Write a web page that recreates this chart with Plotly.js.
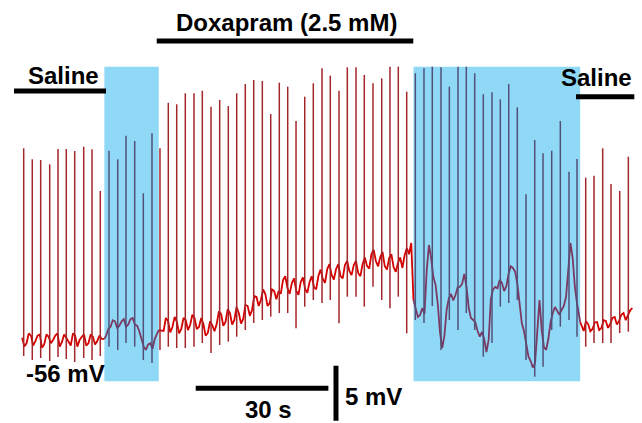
<!DOCTYPE html>
<html>
<head>
<meta charset="utf-8">
<script src="https://cdn.plot.ly/plotly-3.0.1.min.js"></script>
<style>html,body{margin:0;padding:0;background:#fff;}#chart{width:642px;height:423px;}</style>
</head>
<body>
<div id="chart"></div>
<script>
// ---- Data (time in s, membrane potential in mV) ----
// Baseline membrane potential samples [time, mV], read at ~1 s
const baseline = [
  [5,-55.8],[6,-56.3],[7,-55.6],[8,-56.1],[9,-55.5],[10,-56.4],[11,-55.7],[12,-56.0],[13,-55.4],[14,-56.2],
  [15,-55.8],[16,-56.5],[17,-55.6],[18,-56.0],[19,-55.5],[20,-56.3],[21,-55.7],[22,-56.1],[23,-55.9],[23.6,-55.9],
  [24,-55.6],[25,-54.8],[26,-54.3],[27,-54.7],[28,-54.1],[29,-54.6],[30,-54.0],[31,-54.7],[32,-56.0],[33,-56.9],
  [34,-56.3],[35,-55.9],[35.9,-55.1],
  [37,-55.18],[38,-54.27],[39,-54.82],[40,-54.36],[41,-55.00],[42,-54.18],[43,-54.64],[44,-54.00],[45,-54.82],[46,-54.55],
  [47,-55.36],[48,-54.64],[49,-54.55],[50,-53.64],[51,-54.36],[52,-53.55],[53,-54.18],[54,-53.55],[55,-54.09],[56,-52.91],
  [57,-53.27],[58,-52.09],[59,-52.36],[60,-51.82],[61,-52.64],[62,-51.55],[63,-51.55],[64,-50.55],[65,-51.27],[66,-50.82],
  [67,-51.55],[68,-50.73],[69,-51.36],[70,-50.73],[71,-51.18],[72,-50.18],[73,-50.45],[74,-49.55],[75,-50.09],[76,-49.55],
  [77,-50.18],[78,-49.18],[79,-49.73],[80,-49.18],[81,-49.91],[82,-49.09],[83,-49.27],[84,-48.18],[85,-48.82],[86,-48.45],
  [87,-49.27],[88,-48.55],[89,-49.36],[90,-49.00],[91,-49.45],[92,-47.64],[93,-47.18],[93.5,-52.36],
  [94,-53.09],[95,-53.73],[96,-53.64],[96.5,-49.64],[97,-47.36],[97.5,-48.55],[98,-50.27],[99,-52.73],[100,-56.73],[101,-53.27],
  [102,-51.82],[103,-51.91],[104,-51.18],[105,-50.00],[106,-53.09],[107,-54.18],[108,-55.18],[109,-55.27],[110,-57.09],[111,-52.27],
  [112,-51.18],[113,-50.55],[114,-51.55],[115,-50.00],[116,-49.45],[117,-50.91],[118,-54.45],[119,-56.45],[120,-57.91],[121,-58.09],
  [121.5,-55.55],[122,-52.36],[122.5,-55.09],[123,-56.64],[124,-55.91],[125,-53.55],[126,-53.36],[127,-53.27],[128,-52.09],[128.5,-49.18],
  [129,-47.18],[129.5,-48.55],[130,-51.18],[131,-53.91],[131.2,-54.36],
  [132,-55.18],[133,-54.55],[134,-55.00],[135,-54.36],[136,-54.91],[137,-54.27],[138,-54.55],[139,-53.91],[140,-54.27],[141,-53.55],
  [142,-53.73],[143,-53.09]
];
// Additional baseline samples between the above (noise detail) [time, mV]
const baselineFine = [
  [5.5,-56.6],[6.5,-55.4],[7.5,-56.5],[8.5,-55.6],[9.5,-56.7],[10.5,-55.5],[11.5,-56.3],[12.5,-55.6],[13.5,-56.6],[14.5,-55.5],
  [15.5,-56.2],[16.5,-55.4],[17.5,-56.6],[18.5,-55.7],[19.5,-56.5],[20.5,-55.5],[21.5,-56.4],[22.5,-55.6],
  [24.5,-55.0],[25.5,-54.2],[26.5,-54.9],[27.5,-54.3],[28.5,-54.8],[29.5,-54.1],[30.5,-54.6],[31.5,-55.2],[32.5,-56.6],[33.5,-56.4],[34.5,-56.8],
  [37.5,-54.0],[38.5,-55.3],[39.5,-53.9],[40.5,-55.4],[41.5,-54.0],[42.5,-55.1],[43.5,-53.7],[44.5,-55.0],[45.5,-54.0],[46.5,-55.6],
  [47.5,-54.3],[48.5,-55.2],[49.5,-53.4],[50.5,-54.7],[51.5,-53.2],[52.5,-54.6],[53.5,-53.0],[54.5,-54.5],[55.5,-52.8],[56.5,-53.8],
  [57.5,-52.0],[58.5,-52.9],[59.5,-51.4],[60.5,-52.9],[61.5,-51.4],[62.5,-52.3],[63.5,-51.8],[64.5,-50.2],[65.5,-51.8],[66.5,-50.4],
  [67.5,-51.9],[68.5,-50.3],[69.5,-51.7],[70.5,-50.2],[71.5,-51.4],[72.5,-49.6],[73.5,-50.8],[74.5,-49.1],[75.5,-50.5],[76.5,-49.1],
  [77.5,-50.4],[78.5,-48.8],[79.5,-50.1],[80.5,-48.8],[81.5,-50.2],[82.5,-48.5],[83.5,-49.5],[84.5,-47.8],[85.5,-49.3],[86.5,-48.0],
  [87.5,-49.6],[88.5,-48.2],[89.5,-49.8],[90.5,-48.5],[91.5,-48.3],[92.5,-48.2],
  [94.5,-53.9],[95.5,-53.1],[98.5,-51.0],[99.5,-55.3],[100.5,-55.6],[101.5,-52.2],[102.5,-52.4],[103.5,-51.2],[104.5,-50.9],[105.5,-51.2],
  [106.5,-54.0],[107.5,-54.4],[108.5,-55.7],[109.5,-55.9],[110.5,-56.0],[111.5,-51.4],[112.5,-51.3],[113.5,-50.8],[114.5,-51.1],[115.5,-49.3],
  [116.5,-49.8],[117.5,-52.8],[118.5,-55.2],[119.5,-57.5],[120.5,-58.5],[123.5,-56.9],[124.5,-54.4],[125.5,-53.0],[126.5,-53.7],[127.5,-52.9],
  [130.5,-52.7],
  [132.5,-54.3],[133.5,-55.2],[134.5,-54.4],[135.5,-55.1],[136.5,-54.2],[137.5,-54.9],[138.5,-54.0],[139.5,-54.6],[140.5,-53.7],[141.5,-54.2],[142.5,-53.3]
];

// Action potentials: time (s), peak (mV), trough (mV)
const spikeTimes = [5.36,7.30,9.20,11.24,13.12,14.99,16.89,18.93,20.81,22.68,
  24.65,26.62,28.49,30.46,32.41,34.37,36.18,38.06,39.96,41.90,
  43.87,45.75,47.72,49.68,51.63,53.53,55.47,57.37,59.32,61.22,
  63.16,65.06,66.94,68.91,70.85,72.82,74.69,76.66,78.54,80.51,
  82.38,84.35,86.32,88.19,90.07,91.97,93.92,95.88,97.76,99.73,
  101.61,103.57,105.45,107.35,109.29,111.26,113.14,115.04,116.98,118.95,
  120.92,122.80,124.76,126.71,128.67,130.48,132.45,134.33,136.29,138.17,
  140.14,142.09];
const spikePeaks = [-38.57,-39.57,-39.64,-40.03,-38.64,-38.64,-38.82,-38.43,-38.66,-42.45,
  -38.79,-39.57,-37.43,-37.91,-42.66,-37.21,-38.57,-34.43,-34.57,-33.57,
  -33.57,-33.34,-34.79,-34.18,-34.73,-33.57,-32.73,-32.36,-32.45,-35.45,
  -32.61,-32.97,-36.09,-33.88,-32.66,-31.30,-31.97,-33.34,-31.21,-31.21,
  -31.91,-32.66,-32.21,-31.15,-31.15,-33.43,-31.75,-31.30,-31.15,-31.21,
  -32.97,-31.15,-31.15,-31.75,-33.66,-33.48,-34.12,-32.73,-34.84,-42.75,
  -37.82,-39.03,-38.79,-36.09,-40.70,-39.55,-41.24,-41.06,-38.57,-41.82,
  -42.45,-39.34];
const spikeTroughs = [-57.45,-57.82,-57.64,-57.91,-57.55,-57.73,-58.00,-57.64,-57.82,-57.45,
  -56.61,-56.91,-56.27,-56.61,-57.82,-58.09,-56.91,-56.61,-56.73,-56.73,
  -56.61,-56.27,-57.18,-56.45,-56.15,-55.70,-55.09,-54.45,-54.18,-53.88,
  -53.55,-53.55,-54.94,-52.97,-52.36,-52.64,-52.36,-54.48,-52.06,-52.06,
  -52.97,-51.15,-52.36,-53.12,-52.06,-55.39,-54.18,-54.45,-52.91,-56.91,
  -54.18,-55.09,-53.55,-55.09,-57.52,-56.27,-52.97,-52.64,-52.36,-57.82,
  -59.34,-58.43,-55.09,-54.79,-54.18,-55.70,-56.61,-56.27,-56.27,-56.27,
  -55.36,-55.24];

// Highlighted (blue) periods, s
const blueStart = [23.6, 93.5];
const blueEnd = [35.9, 131.2];

// Labels
const drugLabel = 'Doxapram (2.5 mM)';
const salineLabel = 'Saline';
const restLabel = '-56 mV';
const timeBarLabel = '30 s';
const voltBarLabel = '5 mV';

// ---- Build traces ----
const RED = '#d40000', RED_SPIKE = '#a3262b';
const PURP = '#7b3a62', PURP_SPIKE = '#525078';
const inBlue = t => blueStart.some((s, i) => t > s && t < blueEnd[i]);

const allBase = baseline.concat(baselineFine).sort((p, q) => p[0] - q[0]);
const tMin = allBase[0][0], tMax = allBase[allBase.length - 1][0];
const bounds = [tMin];
blueStart.forEach((s, i) => { bounds.push(s); bounds.push(blueEnd[i]); });
bounds.push(tMax);

const traces = [];
for (let k = 0; k < bounds.length - 1; k++) {
  const a = bounds[k], b = bounds[k + 1];
  const pts = allBase.filter(p => p[0] >= a && p[0] <= b);
  const blue = k % 2 === 1;
  traces.push({
    x: pts.map(p => p[0]), y: pts.map(p => p[1]),
    mode: 'lines', type: 'scatter', hoverinfo: 'skip',
    line: {color: blue ? PURP : RED, width: 1.8}
  });
}
const sx = {r: [], b: []}, sy = {r: [], b: []};
spikeTimes.forEach((t, i) => {
  const key = inBlue(t) ? 'b' : 'r';
  sx[key].push(t, t, null);
  sy[key].push(spikePeaks[i], spikeTroughs[i], null);
});
traces.push({x: sx.r, y: sy.r, mode: 'lines', type: 'scatter', hoverinfo: 'skip',
  line: {color: RED_SPIKE, width: 1.5}});
traces.push({x: sx.b, y: sy.b, mode: 'lines', type: 'scatter', hoverinfo: 'skip',
  line: {color: PURP_SPIKE, width: 1.5}});

// ---- Layout ----
const shapes = [];
blueStart.forEach((s, i) => {
  shapes.push({type: 'rect', xref: 'x', yref: 'y', x0: s, x1: blueEnd[i], y0: -59.75, y1: -31.15,
    fillcolor: '#8fd9f6', line: {width: 0}, layer: 'below'});
});
const bar = (x0, x1, y0, y1) => ({type: 'line', xref: 'x', yref: 'y', x0, x1, y0, y1,
  line: {color: '#000', width: 5}});
shapes.push(bar(3.17, 23.97, -33.36, -33.36));     // saline bar (left)
shapes.push(bar(35.44, 93.46, -28.82, -28.82));    // doxapram bar
shapes.push(bar(130.26, 143.44, -33.88, -33.88));  // saline bar (right)
shapes.push(bar(44.26, 74.26, -60.39, -60.39));    // 30 s scale bar
shapes.push(bar(75.98, 75.98, -58.34, -63.34));    // 5 mV scale bar

const font = {family: 'Liberation Sans, Arial, sans-serif', size: 24, color: '#000'};
const ann = (text, x, y, xanchor) => ({text: '<b>' + text + '</b>', x, y, xref: 'x', yref: 'y',
  showarrow: false, xanchor: xanchor || 'center', yanchor: 'middle', font});
const annotations = [
  ann(salineLabel, 14.25, -31.91),
  ann(drugLabel, 64.68, -27.09),
  ann(salineLabel, 134.94, -32.14),
  ann(restLabel, 14.70, -59.0),
  ann(timeBarLabel, 60.67, -62.32),
  ann(voltBarLabel, 77.57, -61.09, 'left')
];

const layout = {
  width: 642, height: 423,
  margin: {l: 0, r: 0, t: 0, b: 0},
  paper_bgcolor: '#fff', plot_bgcolor: '#fff',
  showlegend: false,
  xaxis: {range: [0, 145.18], visible: false, fixedrange: true},
  yaxis: {range: [-63.545, -25.09], visible: false, fixedrange: true},
  shapes, annotations
};
Plotly.newPlot('chart', traces, layout, {staticPlot: true, displayModeBar: false});
</script>
</body>
</html>
